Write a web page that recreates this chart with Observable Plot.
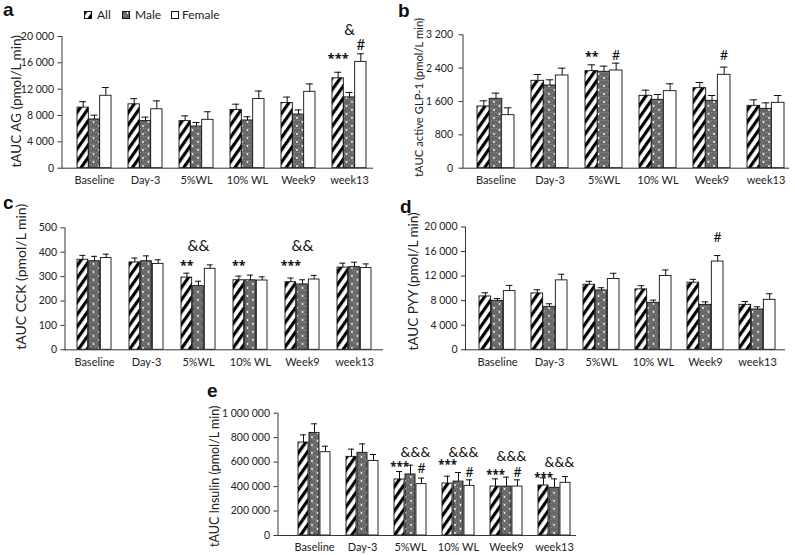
<!DOCTYPE html>
<html><head><meta charset="utf-8">
<script src="https://cdn.jsdelivr.net/npm/d3@7"></script>
<script src="https://cdn.jsdelivr.net/npm/@observablehq/plot@0.6"></script>
<style>
body{margin:0;background:#fff;}
#root{position:relative;width:795px;height:555px;overflow:hidden;font-family:Lato,sans-serif;color:#222;}
.panel{position:absolute;}
.plabel{position:absolute;font-family:"Liberation Sans",Arial,sans-serif;font-weight:bold;font-size:19px;line-height:19px;color:#111;}
.leg{position:absolute;font-size:12px;line-height:12px;color:#222;}
.leg svg{position:absolute;}
</style></head><body>
<svg width="0" height="0" style="position:absolute">
<defs>
<pattern id="pAll" patternUnits="userSpaceOnUse" width="7" height="10" patternTransform="rotate(35)">
<rect width="7" height="10" fill="#fff"/><rect x="0" y="0" width="3.2" height="10" fill="#000"/>
</pattern>
<pattern id="pMale" patternUnits="userSpaceOnUse" width="11" height="8">
<rect width="11" height="8" fill="#676767"/>
<rect x="0" y="0" width="1" height="1" fill="#8a8a8a"/><rect x="2" y="0" width="1" height="1" fill="#8a8a8a"/><rect x="4" y="0" width="1" height="1" fill="#8a8a8a"/><rect x="6" y="0" width="1" height="1" fill="#8a8a8a"/><rect x="8" y="0" width="1" height="1" fill="#8a8a8a"/>
<rect x="1" y="4" width="1" height="1" fill="#8a8a8a"/><rect x="3" y="4" width="1" height="1" fill="#8a8a8a"/><rect x="7" y="4" width="1" height="1" fill="#8a8a8a"/><rect x="9" y="4" width="1" height="1" fill="#8a8a8a"/>
<circle cx="5.5" cy="2" r="0.9" fill="#fff"/><circle cx="0" cy="6" r="0.9" fill="#fff"/><circle cx="11" cy="6" r="0.9" fill="#fff"/>
</pattern>
</defs></svg>
<div id="root"></div>
<script>
const categories = ["Baseline", "Day-3", "5%WL", "10% WL", "Week9", "week13"];
const seriesNames = ["All", "Male", "Female"];

// a: tAUC AG
const agAll = [9200, 9700, 7150, 8850, 9900, 13650];
const agAllErr = [900, 860, 800, 870, 900, 920];
const agMale = [7400, 7150, 6330, 7250, 8150, 10750];
const agMaleErr = [650, 600, 610, 560, 700, 750];
const agFemale = [11000, 8950, 7350, 10500, 11600, 16150];
const agFemaleErr = [1250, 1270, 1220, 1220, 1200, 1220];
const agTicks = [0, 4000, 8000, 12000, 16000, 20000];
const agNotes = [
  {cat: "week13", series: "All", text: "***", y: 17160},
  {cat: "week13", series: "Female", text: "#", y: 18630},
  {cat: "week13", series: "Male", text: "&", y: 20910}
];

// b: tAUC active GLP-1
const glpAll = [1480, 2096, 2328, 1736, 1920, 1496];
const glpAllErr = [136, 152, 152, 136, 136, 144];
const glpMale = [1664, 1984, 2312, 1640, 1616, 1424];
const glpMaleErr = [136, 136, 136, 128, 128, 144];
const glpFemale = [1272, 2224, 2344, 1848, 2240, 1568];
const glpFemaleErr = [176, 176, 176, 176, 184, 176];
const glpTicks = [0, 800, 1600, 2400, 3200];
const glpNotes = [
  {cat: "5%WL", series: "All", text: "**", y: 2759},
  {cat: "5%WL", series: "Female", text: "#", y: 2703},
  {cat: "Week9", series: "Female", text: "#", y: 2703}
];

// c: tAUC CCK
const cckAll = [369, 358, 296, 285, 277, 337];
const cckAllErr = [18, 18, 18, 17, 17, 18];
const cckMale = [363, 363, 261, 285, 268, 339];
const cckMaleErr = [20, 22, 20, 21, 19, 20];
const cckFemale = [376, 352, 332, 284, 288, 335];
const cckFemaleErr = [16, 17, 16, 15, 17, 17];
const cckTicks = [0, 100, 200, 300, 400, 500];
const cckNotes = [
  {cat: "5%WL", series: "All", text: "**", y: 359},
  {cat: "5%WL", series: "Male", text: "&&", y: 427},
  {cat: "10% WL", series: "All", text: "**", y: 359},
  {cat: "Week9", series: "All", text: "***", y: 359},
  {cat: "Week9", series: "Male", text: "&&", y: 427}
];

// d: tAUC PYY
const pyyAll = [8690, 9180, 10600, 9840, 10930, 7320];
const pyyAllErr = [600, 600, 550, 600, 550, 550];
const pyyMale = [7980, 6990, 9670, 7650, 7320, 6560];
const pyyMaleErr = [380, 500, 440, 440, 490, 440];
const pyyFemale = [9560, 11310, 11530, 12020, 14370, 8140];
const pyyFemaleErr = [930, 990, 930, 980, 980, 980];
const pyyTicks = [0, 4000, 8000, 12000, 16000, 20000];
const pyyNotes = [
  {cat: "Week9", series: "Female", text: "#", y: 18360}
];

// e: tAUC Insulin
const insAll = [760000, 643000, 458000, 425000, 400000, 409000];
const insAllErr = [63000, 63000, 65000, 60000, 63000, 62000];
const insMale = [839000, 676000, 499000, 441000, 400000, 390000];
const insMaleErr = [74000, 73000, 76000, 74000, 77000, 73000];
const insFemale = [681000, 610000, 420000, 406000, 400000, 431000];
const insFemaleErr = [49000, 52000, 49000, 49000, 55000, 51000];
const insTicks = [0, 200000, 400000, 600000, 800000, 1000000];
const insNotes = [
  {cat: "5%WL", series: "All", text: "***", y: 586000},
  {cat: "5%WL", series: "Male", text: "&&&", y: 676000},
  {cat: "5%WL", series: "Female", text: "#", y: 545000},
  {cat: "10% WL", series: "All", text: "***", y: 600000},
  {cat: "10% WL", series: "Male", text: "&&&", y: 680000},
  {cat: "10% WL", series: "Female", text: "#", y: 518000},
  {cat: "Week9", series: "All", text: "***", y: 518000},
  {cat: "Week9", series: "Male", text: "&&&", y: 646000},
  {cat: "Week9", series: "Female", text: "#", y: 518000},
  {cat: "week13", series: "All", text: "***", y: 496000},
  {cat: "week13", series: "Male", text: "&&&", y: 599000}
];

const fmt = d3.formatLocale({decimal: ".", thousands: " ", grouping: [3], currency: ["", ""]}).format(",");
const fills = ["url(#pAll)", "url(#pMale)", "#fff"];
const root = document.getElementById("root");

function rowsFor(means, errs) {
  return seriesNames.map((s, k) => categories.map((c, i) => ({cat: c, series: s, value: means[k][i], err: errs[k][i]})));
}

function panel(cfg) {
  const n = categories.length;
  const W = cfg.width - cfg.mL - cfg.mR;
  const step = W / (n - cfg.pi + 2 * cfg.po);
  const bw = step * (1 - cfg.pi);
  const cap = 7;
  const groups = rowsFor(cfg.means, cfg.errs);
  const marks = [];
  groups.forEach((rows, k) => {
    marks.push(Plot.barY(rows, {x: "cat", y: "value", fill: fills[k], stroke: "#111", strokeWidth: 0.9,
      insetLeft: k * bw / 3, insetRight: (2 - k) * bw / 3}));
    marks.push(Plot.ruleX(rows, {x: "cat", y1: "value", y2: d => d.value + d.err, dx: (k - 1) * bw / 3, stroke: "#111", strokeWidth: 1}));
    const c = (2 * k + 1) * bw / 6;
    marks.push(Plot.tickY(rows, {x: "cat", y: d => d.value + d.err, insetLeft: c - cap / 2, insetRight: bw - c - cap / 2, stroke: "#111", strokeWidth: 1}));
  });
  cfg.notes.forEach(nt => {
    const k = seriesNames.indexOf(nt.series);
    const star = nt.text.startsWith("*");
    const amp = nt.text.startsWith("&");
    marks.push(Plot.text([nt], {x: "cat", y: "y", text: "text", lineAnchor: "middle",
      dx: (k - 1) * bw / 3 + (amp ? cfg.ampDx || 0 : 0), dy: star ? 3.5 : 0,
      fontFamily: star ? "'Noto Sans', sans-serif" : "Lato, sans-serif", fontWeight: star ? "bold" : "normal",
      fontSize: star ? cfg.starSize : cfg.symSize, fill: "#111"}));
  });
  marks.push(Plot.ruleY([0], {stroke: "#333", strokeWidth: 1}));
  marks.push(Plot.frame({anchor: "left", stroke: "#333", strokeWidth: 1}));
  marks.push(Plot.axisY({ticks: cfg.ticks, tickFormat: fmt, tickSize: 4, tickPadding: cfg.tickPad || 4, label: null, fontSize: 10.5, stroke: "#333"}));
  marks.push(Plot.axisX({tickSize: 0, tickPadding: 8, label: null, fontSize: 11}));
  marks.push(Plot.text([cfg.title], {frameAnchor: "left", textAnchor: "middle", lineAnchor: "middle", rotate: -90, text: d => d, dx: cfg.tDx, dy: cfg.tDy, fontSize: cfg.tSize, fill: "#222"}));
  const chart = Plot.plot({
    width: cfg.width, height: cfg.height,
    marginLeft: cfg.mL, marginRight: cfg.mR, marginTop: cfg.mT, marginBottom: cfg.mB,
    x: {type: "band", domain: categories, paddingInner: cfg.pi, paddingOuter: cfg.po, align: cfg.align},
    y: {domain: cfg.yDomain},
    style: {fontFamily: "Lato, sans-serif", fontSize: "11px", color: "#222", background: "transparent", overflow: "visible"},
    marks
  });
  const div = document.createElement("div");
  div.className = "panel";
  div.style.left = cfg.left + "px";
  div.style.top = cfg.top + "px";
  div.appendChild(chart);
  root.appendChild(div);
}

panel({left: 0, top: 0, width: 380, height: 190, mL: 61.5, mR: 7, mT: 36, mB: 22.3, pi: 0.337, po: 0.2045, align: 0.676,
  means: [agAll, agMale, agFemale], errs: [agAllErr, agMaleErr, agFemaleErr], yDomain: [0, 20000], ticks: agTicks, notes: agNotes,
  title: "tAUC AG (pmol/L min)", tDx: -45.5, tDy: -1, tSize: 13.5, starSize: 13, symSize: 15});
panel({left: 395, top: 0, width: 400, height: 190, mL: 67.5, mR: 6, mT: 34.3, mB: 22.3, pi: 0.324, po: 0.185, align: 0.74, tickPad: 6,
  means: [glpAll, glpMale, glpFemale], errs: [glpAllErr, glpMaleErr, glpFemaleErr], yDomain: [0, 3200], ticks: glpTicks, notes: glpNotes,
  title: "tAUC active GLP-1 (pmol/L min)", tDx: -44, tDy: -4, tSize: 11.3, starSize: 12.5, symSize: 14});
panel({left: 0, top: 190, width: 395, height: 185, mL: 64.5, mR: 12, mT: 37.3, mB: 25.7, pi: 0.337, po: 0.185, align: 0.54,
  means: [cckAll, cckMale, cckFemale], errs: [cckAllErr, cckMaleErr, cckFemaleErr], yDomain: [0, 500], ticks: cckTicks, notes: cckNotes,
  title: "tAUC CCK (pmol/L min)", tDx: -43, tDy: -12, tSize: 14, starSize: 12.5, symSize: 15.5});
panel({left: 395, top: 190, width: 400, height: 185, mL: 70, mR: 10, mT: 36.5, mB: 25.7, pi: 0.307, po: 0.19, align: 0.59,
  means: [pyyAll, pyyMale, pyyFemale], errs: [pyyAllErr, pyyMaleErr, pyyFemaleErr], yDomain: [0, 20000], ticks: pyyTicks, notes: pyyNotes,
  title: "tAUC PYY (pmol/L min)", tDx: -52, tDy: -7, tSize: 13.5, starSize: 13, symSize: 14});
panel({left: 180, top: 375, width: 420, height: 180, mL: 97.5, mR: 24, mT: 37.7, mB: 20, pi: 0.327, po: 0.21, align: 0.77,
  means: [insAll, insMale, insFemale], errs: [insAllErr, insMaleErr, insFemaleErr], yDomain: [0, 1000000], ticks: insTicks, notes: insNotes,
  title: "tAUC Insulin (pmol/L min)", tDx: -63.5, tDy: 2, tSize: 12.5, starSize: 11.5, symSize: 14, ampDx: 5});

// panel letters
[["a", 3, 0], ["b", 398, 1], ["c", 3, 193], ["d", 400, 197], ["e", 207, 381]].forEach(([t, x, y]) => {
  const s = document.createElement("div");
  s.className = "plabel"; s.textContent = t; s.style.left = x + "px"; s.style.top = y + "px";
  root.appendChild(s);
});

// legend
const legendX = [[84, 97], [122, 135], [171, 182]];
seriesNames.forEach((s, k) => {
  const d = document.createElement("div");
  d.className = "leg";
  d.style.left = legendX[k][0] + "px"; d.style.top = "9px";
  d.innerHTML = `<svg width="8" height="8" style="left:0;top:2px"><rect x="0.5" y="0.5" width="7" height="7" fill="${fills[k]}" stroke="#111" stroke-width="1"/></svg><span style="position:absolute;left:${legendX[k][1] - legendX[k][0]}px;top:0;white-space:nowrap">${s}</span>`;
  root.appendChild(d);
});
</script>
</body></html>
